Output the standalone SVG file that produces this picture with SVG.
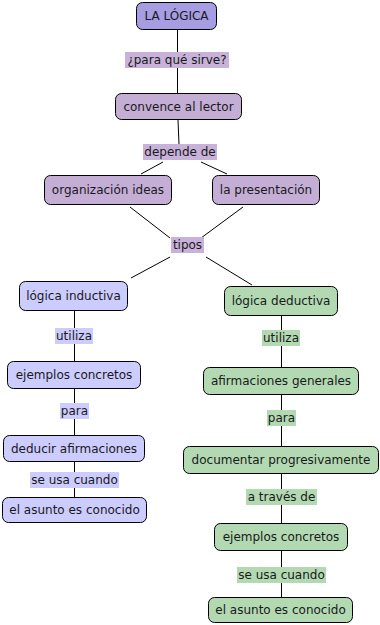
<svg xmlns="http://www.w3.org/2000/svg" width="380" height="625" viewBox="0 0 380 625">
<style>
text{font-family:"DejaVu Sans",Verdana,sans-serif;font-size:12px;fill:#1a1a1a;text-anchor:middle}
.box{stroke:#000;stroke-width:1}
.pu{fill:#c4aed6}
.top{fill:#a69de3}
.bl{fill:#ccccff}
.gr{fill:#b2d9b2}
.lpu{fill:#c8b2d9}
.lbl{fill:#ccccff}
.lgr{fill:#b2d9b2}
#connectors line{stroke:#000;stroke-width:1}
</style>
<rect width="380" height="625" fill="#fff"/>
<g id="connectors">
<line x1="177.5" y1="29" x2="177.5" y2="53"/>
<line x1="177.5" y1="67" x2="177.5" y2="93"/>
<line x1="178" y1="120" x2="179" y2="144"/>
<line x1="163" y1="162" x2="141" y2="174"/>
<line x1="201" y1="162" x2="227" y2="174"/>
<line x1="130" y1="207" x2="170" y2="238"/>
<line x1="243" y1="207" x2="201" y2="238"/>
<line x1="170" y1="257" x2="131" y2="278"/>
<line x1="206" y1="257" x2="252" y2="285"/>
<line x1="74.5" y1="311" x2="74.5" y2="328"/>
<line x1="74.5" y1="344" x2="74.5" y2="361"/>
<line x1="74.5" y1="389" x2="74.5" y2="403"/>
<line x1="74.5" y1="419" x2="74.5" y2="435"/>
<line x1="74.5" y1="462" x2="74.5" y2="472"/>
<line x1="74.5" y1="488" x2="74.5" y2="497"/>
<line x1="281.5" y1="316" x2="281.5" y2="330"/>
<line x1="281.5" y1="346" x2="281.5" y2="367"/>
<line x1="281.5" y1="395" x2="281.5" y2="410"/>
<line x1="281.5" y1="426" x2="281.5" y2="446"/>
<line x1="281.5" y1="474" x2="281.5" y2="489"/>
<line x1="281.5" y1="505" x2="281.5" y2="523"/>
<line x1="281.5" y1="551" x2="281.5" y2="567"/>
<line x1="281.5" y1="583" x2="281.5" y2="597"/>
</g>
<g id="labels">
<g id="l1"><rect class="lpu" x="125" y="52" width="104" height="16"/><text x="177" y="64">¿para qué sirve?</text></g>
<g id="l2"><rect class="lpu" x="143" y="144" width="74" height="16"/><text x="180" y="156">depende de</text></g>
<g id="l3"><rect class="lpu" x="171" y="237" width="33" height="16"/><text x="187.5" y="249">tipos</text></g>
<g id="l4"><rect class="lbl" x="55" y="328" width="38" height="16"/><text x="74" y="340">utiliza</text></g>
<g id="l5"><rect class="lbl" x="60" y="403" width="29" height="16"/><text x="74.5" y="415">para</text></g>
<g id="l6"><rect class="lbl" x="30" y="472" width="89" height="16"/><text x="74.5" y="484">se usa cuando</text></g>
<g id="l7"><rect class="lgr" x="262" y="330" width="38" height="16"/><text x="281" y="342">utiliza</text></g>
<g id="l8"><rect class="lgr" x="267" y="410" width="29" height="16"/><text x="281.5" y="422">para</text></g>
<g id="l9"><rect class="lgr" x="246" y="489" width="71" height="16"/><text x="281.5" y="501">a través de</text></g>
<g id="l10"><rect class="lgr" x="237" y="567" width="89" height="16"/><text x="281.5" y="579">se usa cuando</text></g>
</g>
<g id="n1"><rect class="box top" x="136.5" y="2.5" width="80" height="27" rx="6"/><text x="176.5" y="20">LA LÓGICA</text></g>
<g id="n2"><rect class="box pu" x="115.5" y="93.5" width="126" height="26" rx="6"/><text x="178.5" y="111">convence al lector</text></g>
<g id="n3"><rect class="box pu" x="44.5" y="175.5" width="127" height="29" rx="6"/><text x="108" y="194">organización ideas</text></g>
<g id="n4"><rect class="box pu" x="212.5" y="175.5" width="107" height="29" rx="6"/><text x="266" y="194">la presentación</text></g>
<g id="n5"><rect class="box bl" x="19.5" y="281.5" width="108" height="29" rx="6"/><text x="73.5" y="300">lógica inductiva</text></g>
<g id="n6"><rect class="box gr" x="224.5" y="286.5" width="113" height="29" rx="6"/><text x="281" y="305">lógica deductiva</text></g>
<g id="n7"><rect class="box bl" x="7.5" y="361.5" width="133" height="27" rx="6"/><text x="74" y="379">ejemplos concretos</text></g>
<g id="n8"><rect class="box bl" x="3.5" y="435.5" width="141" height="26" rx="6"/><text x="74" y="453">deducir afirmaciones</text></g>
<g id="n9"><rect class="box bl" x="2.5" y="497.5" width="144" height="25" rx="6"/><text x="74.5" y="514">el asunto es conocido</text></g>
<g id="n10"><rect class="box gr" x="203.5" y="367.5" width="155" height="27" rx="6"/><text x="281" y="385">afirmaciones generales</text></g>
<g id="n11"><rect class="box gr" x="183.5" y="446.5" width="195" height="27" rx="6"/><text x="281" y="464">documentar progresivamente</text></g>
<g id="n12"><rect class="box gr" x="214.5" y="523.5" width="133" height="27" rx="6"/><text x="281" y="541">ejemplos concretos</text></g>
<g id="n13"><rect class="box gr" x="208.5" y="597.5" width="144" height="25" rx="6"/><text x="280.5" y="614">el asunto es conocido</text></g>
</svg>
